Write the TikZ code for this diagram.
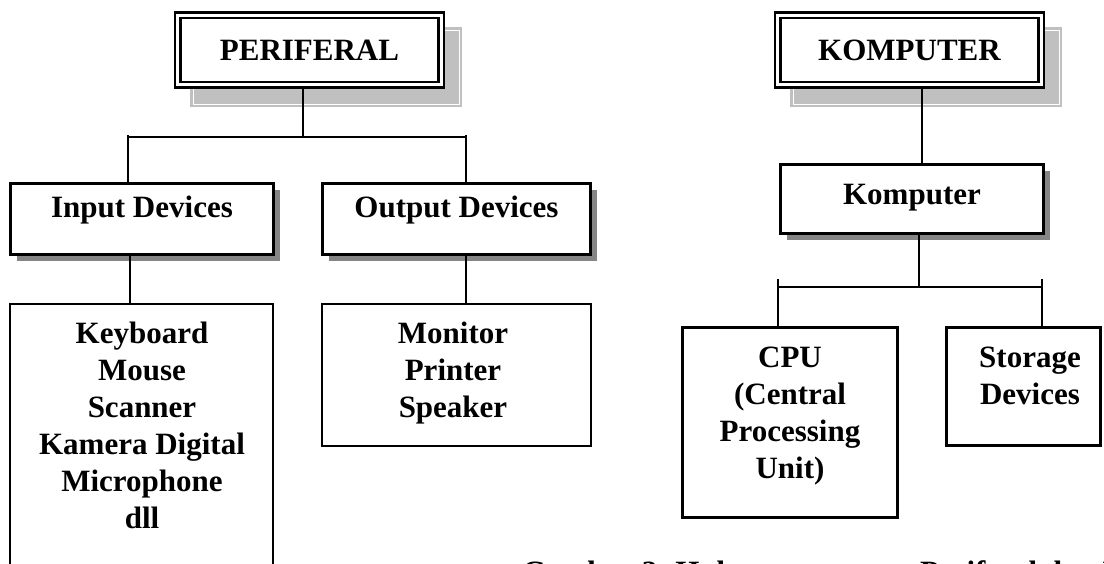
\documentclass[tikz,border=0pt]{standalone}
\usepackage{fontspec}
\setmainfont{Liberation Serif}
\usetikzlibrary{shadows}
\pgfdeclarelayer{bg}
\pgfsetlayers{bg,main}
\definecolor{lgray}{HTML}{C0C0C0}
\definecolor{dgray}{HTML}{858585}
\tikzset{
 lbl/.style={font=\fontsize{31}{37}\selectfont\bfseries, align=center, inner sep=0pt, anchor=base},
 titlebox/.style={draw, line width=2.2pt, double, double distance=3.3pt, fill=white, inner sep=0pt, minimum width=263.5pt, minimum height=69.5pt},
 bigbox/.style={draw, line width=3pt, fill=white, inner sep=0pt},
 shbox/.style={bigbox, drop shadow={shadow xshift=6pt, shadow yshift=-6pt, fill=dgray, opacity=1}},
 listbox/.style={draw, line width=2pt, fill=white, inner sep=0pt},
 conn/.style={line width=1.5pt},
}
\begin{document}
\begin{tikzpicture}[x=1pt,y=-1pt]
\useasboundingbox (0,0) rectangle (1104,563);

% title shadows
\begin{pgfonlayer}{bg}
\fill[lgray] (190,27) rectangle (462,107);
\draw[white, line width=0.8pt] (193,30) rectangle (459,104);
\fill[lgray] (790,27) rectangle (1062,107);
\draw[white, line width=0.8pt] (793,30) rectangle (1059,104);
\end{pgfonlayer}

% left tree
\node[titlebox] (per) at (309.5,50) {};
\node[lbl] (perT) at (309.5,60) {PERIFERAL};

\node[shbox, minimum width=263pt, minimum height=71pt] (inp) at (142,219) {};
\node[lbl] (inpT) at (142,217) {Input Devices};
\node[shbox, minimum width=268pt, minimum height=71pt] (out) at (456.5,219) {};
\node[lbl] (outT) at (456.5,217) {Output Devices};

\node[listbox, minimum width=263pt, minimum height=316pt] (kb) at (141.5,462) {};
\node[lbl] (kbT) at (142,528) {Keyboard\\Mouse\\Scanner\\Kamera Digital\\Microphone\\dll};
\node[listbox, minimum width=269pt, minimum height=142pt] (mon) at (456.5,375) {};
\node[lbl] (monT) at (453,417) {Monitor\\Printer\\Speaker};

\coordinate (pb) at (303,137);
\coordinate (pl) at (128,137);
\coordinate (pr) at (466,137);
\coordinate (ix) at (130,0);
\coordinate (ox) at (466,0);
\draw[conn] ([yshift=-2.75pt]per.south -| pb) -- (pb);
\draw[conn] (pl) -- (pr);
\draw[conn] ([yshift=2pt]pl) -- (pl |- inp.north);
\draw[conn] ([yshift=2pt]pr) -- (pr |- out.north);
\draw[conn] (inp.south -| ix) -- (kb.north -| ix);
\draw[conn] (out.south -| ox) -- (mon.north -| ox);

% right tree
\node[titlebox] (kom) at (909.5,50) {};
\node[lbl] (komT) at (909.5,60) {KOMPUTER};

\node[shbox, minimum width=263pt, minimum height=69pt] (km) at (912,199) {};
\node[lbl] (kmT) at (912,204) {Komputer};

\node[bigbox, minimum width=215pt, minimum height=190pt] (cpu) at (790,422.5) {};
\node[lbl] (cpuT) at (790,478) {CPU\\(Central\\Processing\\Unit)};
\node[bigbox, minimum width=154pt, minimum height=118pt] (sto) at (1023.5,386.5) {};
\node[lbl] (stoT) at (1030,404) {Storage\\Devices};

\coordinate (kx1) at (922,0);
\coordinate (kb2) at (919,287);
\coordinate (kl) at (778,287);
\coordinate (kr) at (1042,287);
\draw[conn] ([yshift=-2.75pt]kom.south -| kx1) -- (km.north -| kx1);
\draw[conn] (km.south -| kb2) -- (kb2);
\draw[conn] (kl) -- (kr);
\draw[conn] ([yshift=8pt]kl) -- (kl |- cpu.north);
\draw[conn] ([yshift=8pt]kr) -- (kr |- sto.north);

% caption (cut off by the page edge)
\node[lbl, anchor=base west] (cap) at (522,582) {Gambar 2. Hubungan antara Periferal dan Komputer};
\end{tikzpicture}
\end{document}
